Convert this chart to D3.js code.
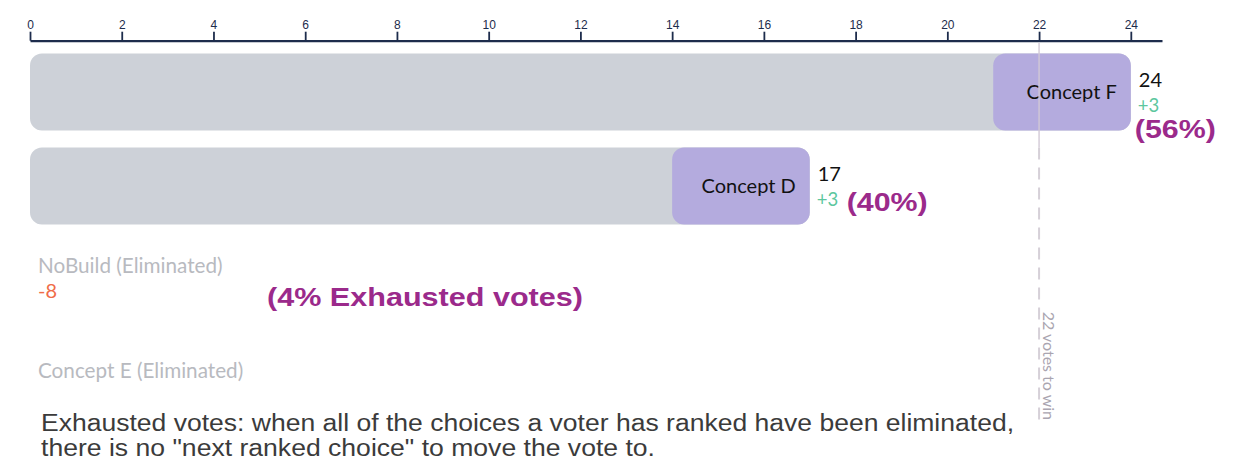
<!DOCTYPE html>
<html>
<head>
<meta charset="utf-8">
<script src="https://cdn.jsdelivr.net/npm/d3@7"></script>
<style>
  body { margin: 0; background: #fff; }
  svg { display: block; }
</style>
</head>
<body>
<svg id="chart" width="1245" height="464"></svg>
<script>
// Ranked-choice round: votes held before the round plus votes transferred in it
const candidates  = ["Concept F", "Concept D", "NoBuild", "Concept E"];
const eliminated  = [false, false, true, true];
const priorVotes  = [21, 14, 8, 0];
const transferred = [3, 3, -8, null];
const shareLabels = ["(56%)", "(40%)", null, null];
const exhaustedLabel = "(4% Exhausted votes)";
const winThreshold = 22;
const thresholdLabel = "22 votes to win";
const tickValues = [0, 2, 4, 6, 8, 10, 12, 14, 16, 18, 20, 22, 24];
const footnote = [
  "Exhausted votes: when all of the choices a voter has ranked have been eliminated,",
  "there is no \"next ranked choice\" to move the vote to."
];

const W = 1245, H = 464;
const svg = d3.select("#chart");

const rows = candidates.map((name, i) => ({
  name,
  out: eliminated[i],
  prior: priorVotes[i],
  change: transferred[i],
  total: eliminated[i] ? 0 : priorVotes[i] + (transferred[i] || 0),
  share: shareLabels[i]
}));

const x = d3.scaleLinear().domain([0, 24.68]).range([30, 1162]);
const y = d3.scaleBand().domain(candidates)
  .range([53.5, 412.5]).paddingInner(0.181).paddingOuter(0).align(0);

const barFont = "Lato, 'Open Sans', sans-serif";
const boldFont = "'Liberation Sans', Arial, sans-serif";

// Top axis
const axisY = 40.7;
const axis = svg.append("g")
  .attr("transform", `translate(0,${axisY})`)
  .call(d3.axisTop(x).tickValues(tickValues).tickSize(9).tickSizeOuter(0).tickPadding(3));
axis.select(".domain").attr("stroke", "#1d2c4c").attr("stroke-width", 2.2);
axis.selectAll(".tick line").attr("stroke", "#1d2c4c").attr("stroke-width", 1.8);
axis.selectAll(".tick text")
  .attr("fill", "#1d2c4c")
  .style("font-family", "'Liberation Sans', Arial, sans-serif")
  .style("font-size", "12px");

// Bars for candidates still in the count
const active = rows.filter(d => !d.out);
const bars = svg.append("g").selectAll("g").data(active).join("g");

bars.append("rect")
  .attr("x", x(0))
  .attr("y", d => y(d.name))
  .attr("width", d => x(d.total) - x(0))
  .attr("height", y.bandwidth())
  .attr("rx", 12)
  .attr("fill", "#cdd1d8");

bars.append("rect")
  .attr("x", d => x(d.prior))
  .attr("y", d => y(d.name))
  .attr("width", d => x(d.total) - x(d.prior))
  .attr("height", y.bandwidth())
  .attr("rx", 12)
  .attr("fill", "#b4abde");

// Threshold line: solid through the leading row, dashed below
const lineX = x(winThreshold);
const thr = svg.append("g");
thr.append("line")
  .attr("x1", lineX).attr("x2", lineX)
  .attr("y1", axisY + 2).attr("y2", y(candidates[0]) + y.step())
  .attr("stroke", "#d3c9d6").attr("stroke-width", 1.6).attr("opacity", 0.85);
thr.append("line")
  .attr("x1", lineX).attr("x2", lineX)
  .attr("y1", y(candidates[0]) + y.step()).attr("y2", 425)
  .attr("stroke", "#d6d0d8").attr("stroke-width", 2)
  .attr("stroke-dasharray", "12 8");
thr.append("text")
  .attr("transform", `translate(${lineX + 4},420) rotate(90)`)
  .attr("text-anchor", "end")
  .attr("fill", "#aaa5b0")
  .style("font-family", barFont)
  .style("font-size", "16px")
  .text(thresholdLabel);

// Labels inside and beside the active bars
bars.append("text")
  .attr("x", d => x(d.total) - 14)
  .attr("y", d => y(d.name) + y.bandwidth() / 2 + 7)
  .attr("text-anchor", "end")
  .attr("fill", "#111")
  .style("font-family", barFont)
  .style("font-size", "20px")
  .text(d => d.name);

bars.append("text")
  .attr("x", d => x(d.total) + 8)
  .attr("y", d => y(d.name) + 33)
  .attr("fill", "#111")
  .style("font-family", barFont)
  .style("font-size", "20px")
  .text(d => d.total);

bars.append("text")
  .attr("x", d => x(d.total) + 7)
  .attr("y", d => y(d.name) + 58)
  .attr("fill", "#5dc79e")
  .style("font-family", barFont)
  .style("font-size", "18.5px")
  .text(d => (d.change > 0 ? "+" : "") + d.change);

// Share of the vote: inline after the change when it fits, otherwise below
const shareWidth = 81;
bars.append("text")
  .each(function (d) {
    const inlineX = x(d.total) + 37;
    const fits = inlineX + shareWidth < W - 2;
    d3.select(this)
      .attr("x", fits ? inlineX : x(d.total) + 4)
      .attr("y", y(d.name) + (fits ? 63 : 84));
  })
  .attr("fill", "#9b2a8b")
  .attr("textLength", shareWidth)
  .attr("lengthAdjust", "spacingAndGlyphs")
  .style("font-family", boldFont)
  .style("font-weight", "bold")
  .style("font-size", "25px")
  .text(d => d.share);

// Eliminated candidates: name plus any votes moved away
const outRows = rows.filter(d => d.out);
const outG = svg.append("g").selectAll("g").data(outRows).join("g");
outG.append("text")
  .attr("x", 38)
  .attr("y", d => y(d.name) + y.bandwidth() / 2 + (d.change != null ? -7 : 4))
  .attr("fill", "#b8babf")
  .style("font-family", barFont)
  .style("font-size", "20.7px")
  .text(d => `${d.name} (Eliminated)`);
outG.filter(d => d.change != null).append("text")
  .attr("x", 38)
  .attr("y", d => y(d.name) + y.bandwidth() / 2 + 18)
  .attr("fill", "#f06c48")
  .style("font-family", barFont)
  .style("font-size", "20px")
  .text(d => d.change);

// Exhausted-vote note beside the eliminated row that lost votes
const exhaustedRow = outRows.find(d => d.change != null);
svg.append("text")
  .attr("x", 267)
  .attr("y", y(exhaustedRow.name) + y.bandwidth() / 2 + 26)
  .attr("fill", "#9b2a8b")
  .attr("textLength", 316)
  .attr("lengthAdjust", "spacingAndGlyphs")
  .style("font-family", boldFont)
  .style("font-weight", "bold")
  .style("font-size", "25px")
  .text(exhaustedLabel);

// Footnote
const footWidths = [973, 614];
svg.append("g").selectAll("text").data(footnote).join("text")
  .attr("x", 41)
  .attr("y", (d, i) => 431 + i * 25)
  .attr("fill", "#3b3b3b")
  .attr("textLength", (d, i) => footWidths[i])
  .attr("lengthAdjust", "spacingAndGlyphs")
  .style("font-family", "'Liberation Sans', Arial, sans-serif")
  .style("font-size", "23px")
  .text(d => d);
</script>
</body>
</html>
